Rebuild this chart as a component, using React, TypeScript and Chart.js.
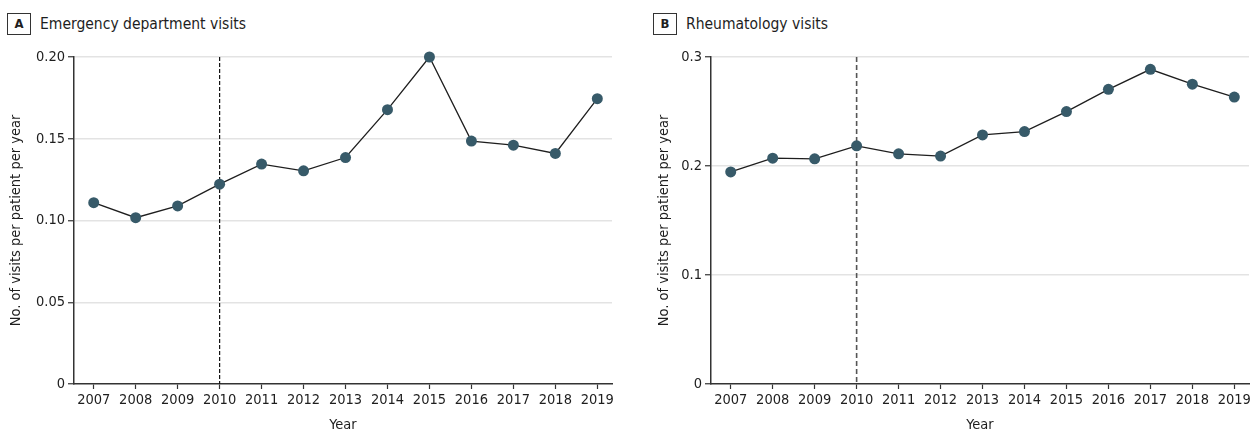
import React, { useEffect, useRef } from "react";
import { Chart, registerables } from "chart.js";

Chart.register(...registerables);

const years = [2007, 2008, 2009, 2010, 2011, 2012, 2013, 2014, 2015, 2016, 2017, 2018, 2019];
const edVisits = [0.1109, 0.1017, 0.1089, 0.1222, 0.1345, 0.1304, 0.1385, 0.1678, 0.2, 0.1486, 0.1461, 0.141, 0.1745];
const rheumVisits = [0.1946, 0.2072, 0.2066, 0.2185, 0.2112, 0.2091, 0.2285, 0.2316, 0.2499, 0.2703, 0.2887, 0.2751, 0.2632];
const edTicks = [0, 0.05, 0.1, 0.15, 0.2];
const edTickLabels = ["0", "0.05", "0.10", "0.15", "0.20"];
const rheumTicks = [0, 0.1, 0.2, 0.3];
const rheumTickLabels = ["0", "0.1", "0.2", "0.3"];
const policyYear = 2010;
const yTitle = "No. of visits per patient per year";
const xTitle = "Year";

const FONT = "'DejaVu Sans Condensed', 'Liberation Sans Narrow', Roboto, sans-serif";
const INK = "#1e1e1e";
const POINT = "#375a69";

type PanelProps = {
  left: number;
  width: number;
  letter: string;
  title: string;
  values: number[];
  ticks: number[];
  tickLabels: string[];
  yAxisWidth: number;
  padRight: number;
  yTitlePad: number;
  dashColor: string;
  dashWidth: number;
  dashPattern: number[];
};

function Panel(p: PanelProps) {
  const ref = useRef<HTMLCanvasElement | null>(null);
  useEffect(() => {
    if (!ref.current) return;
    const dashPlugin = {
      id: "policyLine",
      beforeDatasetsDraw(chart: any) {
        const { ctx, chartArea, scales } = chart;
        const x = scales.x.getPixelForValue(policyYear);
        ctx.save();
        ctx.strokeStyle = p.dashColor;
        ctx.lineWidth = p.dashWidth;
        ctx.setLineDash(p.dashPattern);
        ctx.beginPath();
        ctx.moveTo(x, chartArea.top);
        ctx.lineTo(x, chartArea.bottom);
        ctx.stroke();
        ctx.restore();
      },
    };
    const chart = new Chart(ref.current, {
      type: "line",
      data: {
        datasets: [
          {
            data: years.map((y, i) => ({ x: y, y: p.values[i] })),
            borderColor: INK,
            borderWidth: 1.3,
            pointRadius: 5.5,
            pointBackgroundColor: POINT,
            pointBorderColor: POINT,
            pointBorderWidth: 0,
            tension: 0,
            clip: false,
          },
        ],
      },
      options: {
        animation: false,
        responsive: false,
        maintainAspectRatio: false,
        layout: { padding: { top: 17, right: p.padRight, bottom: 0, left: 0 } },
        plugins: { legend: { display: false }, tooltip: { enabled: false } },
        scales: {
          x: {
            type: "linear",
            min: 2006.53,
            max: 2019.35,
            afterBuildTicks: (s: any) => {
              s.ticks = years.map((v) => ({ value: v }));
            },
            afterFit: (s: any) => {
              s.height = 50;
            },
            ticks: {
              autoSkip: false,
              maxRotation: 0,
              padding: 3,
              color: INK,
              font: { family: FONT, size: 14.5 },
              callback: (v: any) => String(v),
            },
            grid: {
              drawOnChartArea: false,
              tickLength: 5,
              tickColor: "#333",
              tickWidth: 1.2,
            },
            border: { color: "#333", width: 1.5 },
            title: {
              display: true,
              text: xTitle,
              color: INK,
              font: { family: FONT, size: 14.5, lineHeight: 1.2 },
              padding: { top: 0.6, bottom: 0 },
            },
          },
          y: {
            type: "linear",
            min: 0,
            max: p.ticks[p.ticks.length - 1],
            afterBuildTicks: (s: any) => {
              s.ticks = p.ticks.map((v) => ({ value: v }));
            },
            afterFit: (s: any) => {
              s.width = p.yAxisWidth;
            },
            ticks: {
              padding: 3,
              color: INK,
              font: { family: FONT, size: 14.5 },
              callback: (v: any) => {
                const i = p.ticks.findIndex((t) => Math.abs(t - v) < 1e-9);
                return i >= 0 ? p.tickLabels[i] : "";
              },
            },
            grid: {
              color: (c: any) => (c.tick && c.tick.value === 0 ? "rgba(0,0,0,0)" : "#e3e3e3"),
              lineWidth: 1.5,
              tickLength: 6,
              tickColor: "#333",
              tickWidth: 1.2,
            },
            border: { color: "#333", width: 1.5 },
            title: {
              display: true,
              text: yTitle,
              color: INK,
              font: { family: FONT, size: 14.5, lineHeight: 1.2 },
              padding: { top: p.yTitlePad, bottom: 0 },
            },
          },
        },
      } as any,
      plugins: [dashPlugin],
    });
    return () => chart.destroy();
  }, []);

  return (
    <div style={{ position: "absolute", left: p.left, top: 0, width: p.width, height: 434 }}>
      <div
        style={{
          position: "absolute",
          left: 7,
          top: 13,
          width: 24,
          height: 22,
          boxSizing: "border-box",
          border: "1px solid #333",
          fontFamily: FONT,
          fontWeight: "bold",
          fontSize: 13,
          lineHeight: "20px",
          textAlign: "center",
          color: INK,
        }}
      >
        {p.letter}
      </div>
      <div
        style={{
          position: "absolute",
          left: 40,
          top: 14,
          fontFamily: FONT,
          fontSize: 15.5,
          lineHeight: "20px",
          color: INK,
          whiteSpace: "nowrap",
        }}
      >
        {p.title}
      </div>
      <canvas
        ref={ref}
        width={p.width}
        height={394}
        style={{ position: "absolute", left: 0, top: 40, width: p.width, height: 394 }}
      />
    </div>
  );
}

export default function App() {
  return (
    <div style={{ position: "absolute", left: 0, top: 0, width: 1255, height: 434, background: "#fff", overflow: "hidden" }}>
      <Panel
        left={0}
        width={630}
        letter="A"
        title="Emergency department visits"
        values={edVisits}
        ticks={edTicks}
        tickLabels={edTickLabels}
        yAxisWidth={74}
        padRight={18}
        yTitlePad={8}
        dashColor="#111"
        dashWidth={1.2}
        dashPattern={[4, 2]}
      />
      <Panel
        left={646}
        width={609}
        letter="B"
        title="Rheumatology visits"
        values={rheumVisits}
        ticks={rheumTicks}
        tickLabels={rheumTickLabels}
        yAxisWidth={65}
        padRight={6}
        yTitlePad={9.6}
        dashColor="#555"
        dashWidth={1.6}
        dashPattern={[5, 3]}
      />
    </div>
  );
}
